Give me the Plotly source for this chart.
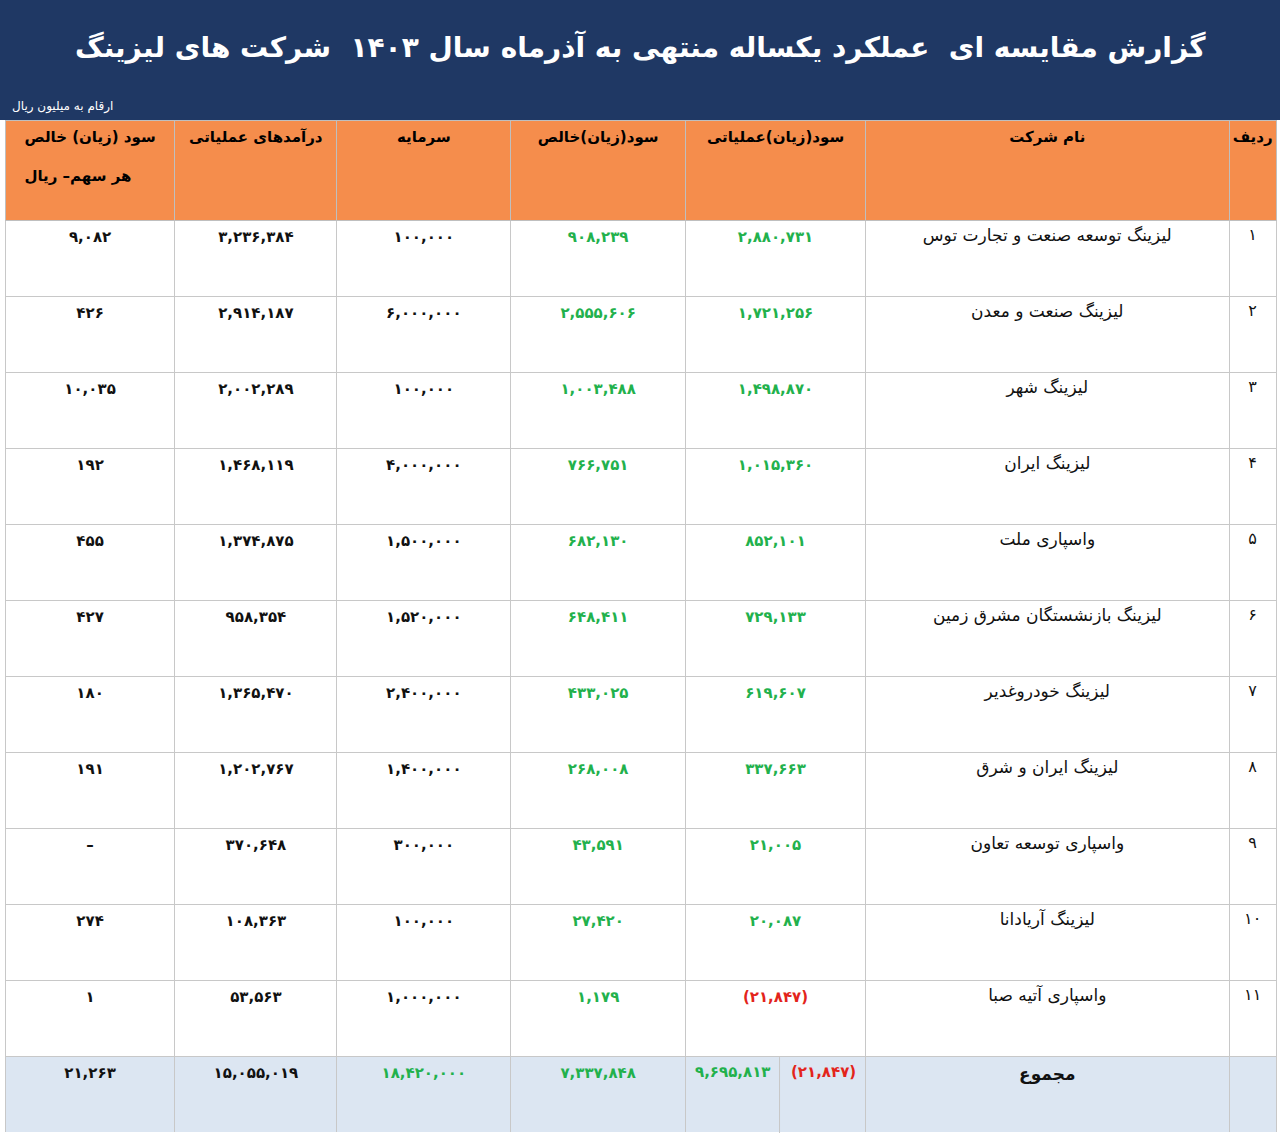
import plotly.graph_objects as go

row_no = list(range(1, 12))
companies = ["لیزینگ توسعه صنعت و تجارت توس", "لیزینگ صنعت و معدن", "لیزینگ شهر", "لیزینگ ایران",
             "واسپاری ملت", "لیزینگ بازنشستگان مشرق زمین", "لیزینگ خودروغدیر", "لیزینگ ایران و شرق",
             "واسپاری توسعه تعاون", "لیزینگ آریادانا", "واسپاری آتیه صبا"]
op_profit = [2880731, 1721256, 1498870, 1015360, 852101, 729133, 619607, 337663, 21005, 20087, -21847]
net_profit = [908239, 2555606, 1003488, 766751, 682130, 648411, 433025, 268008, 43591, 27420, 1179]
capital = [100000, 6000000, 100000, 4000000, 1500000, 1520000, 2400000, 1400000, 300000, 100000, 1000000]
revenue = [3236384, 2914187, 2002289, 1468119, 1374875, 958354, 1365470, 1202767, 370648, 108363, 53563]
eps = [9082, 426, 10035, 192, 455, 427, 180, 191, None, 274, 1]
total_op_pos, total_op_neg = 9695813, -21847
total_net, total_cap, total_rev, total_eps = 7337848, 18420000, 15055019, 21263

headers = ["ردیف", "نام شرکت", "سود(زیان)عملیاتی", "سود(زیان)خالص", "سرمایه", "درآمدهای عملیاتی",
           "سود (زیان) خالص<br><br>هر سهم– ریال"]

PD = str.maketrans("0123456789", "۰۱۲۳۴۵۶۷۸۹")
GREEN, RED, BLACK = "#22B14C", "#E3241B", "#111111"

def fa(v):
    if v is None:
        return "–"
    s = f"{abs(v):,}".translate(PD)
    return f"({s})" if v < 0 else s

def b(s):
    return f"<b>{s}</b>" if s else s

c_no = [fa(v) for v in row_no] + [""]
c_name = companies + ["<b>مجموع</b>"]
c_op = [b(fa(v)) for v in op_profit] + [""]
c_net = [b(fa(v)) for v in net_profit] + [b(fa(total_net))]
c_cap = [b(fa(v)) for v in capital] + [b(fa(total_cap))]
c_rev = [b(fa(v)) for v in revenue] + [b(fa(total_rev))]
c_eps = [b(fa(v)) for v in eps] + [b(fa(total_eps))]

col_op_color = [RED if v < 0 else GREEN for v in op_profit] + [GREEN]
col_net_color = [GREEN] * 12
col_cap_color = [BLACK] * 11 + [GREEN]
blk = [BLACK] * 12

cols = [c_no, c_name, c_op, c_net, c_cap, c_rev, c_eps][::-1]
colors = [blk, blk, col_op_color, col_net_color, col_cap_color, blk, blk][::-1]
sizes = [16, 17, 15, 15, 15, 15, 15][::-1]
hdr = headers[::-1]
widths = [47, 364, 180, 175, 174, 162, 170][::-1]
fill = ["white"] * 11 + ["#DCE6F2"]

fig = go.Figure(go.Table(
    columnwidth=widths,
    domain=dict(x=[0.004, 0.997], y=[0, 0.894]),
    header=dict(values=[f"<b>{h}</b>" for h in hdr], fill_color="#F58D4C", height=100,
                line_color="#BFBFBF", align="center",
                font=dict(family="DejaVu Sans", size=15, color="black")),
    cells=dict(values=cols, fill_color=[fill] * 7, height=76, line_color="#C8C8C8",
               align="center", font=dict(family="DejaVu Sans", size=sizes, color=colors)),
))
fig.add_shape(type="rect", xref="paper", yref="paper", x0=0, x1=1, y0=0.894, y1=1,
              fillcolor="#1F3864", line_width=0, layer="below")
fig.add_annotation(text="<b>گزارش مقایسه ای  عملکرد یکساله منتهی به آذرماه سال ۱۴۰۳  شرکت های لیزینگ</b>",
                   xref="paper", yref="paper", x=0.5, y=0.975, showarrow=False,
                   font=dict(family="DejaVu Sans", size=28, color="white"))
fig.add_annotation(text="ارقام به میلیون ریال", xref="paper", yref="paper", x=0.008, y=0.914,
                   xanchor="left", showarrow=False, font=dict(family="DejaVu Sans", size=12, color="white"))
# split total cell of operating profit
fig.add_annotation(text=f"<b>{fa(total_op_pos)}</b>", xref="paper", yref="paper", x=0.572, y=0.044,
                   showarrow=False, font=dict(family="DejaVu Sans", size=15, color=GREEN))
fig.add_annotation(text=f"<b>{fa(total_op_neg)}</b>", xref="paper", yref="paper", x=0.643, y=0.044,
                   showarrow=False, font=dict(family="DejaVu Sans", size=15, color=RED))
fig.add_shape(type="line", xref="paper", yref="paper", x0=0.609, x1=0.609, y0=0, y1=0.067,
              line=dict(color="#C8C8C8", width=1))
fig.update_layout(width=1280, height=1133, margin=dict(l=0, r=0, t=0, b=0), paper_bgcolor="white")
fig.write_html("out.html", config={"displayModeBar": False})

with open("out.html", encoding="utf-8") as f:
    html = f.read()
html = html.replace("<head>", "<head><style>html,body{margin:0;padding:0;}</style>", 1)
with open("out.html", "w", encoding="utf-8") as f:
    f.write(html)
